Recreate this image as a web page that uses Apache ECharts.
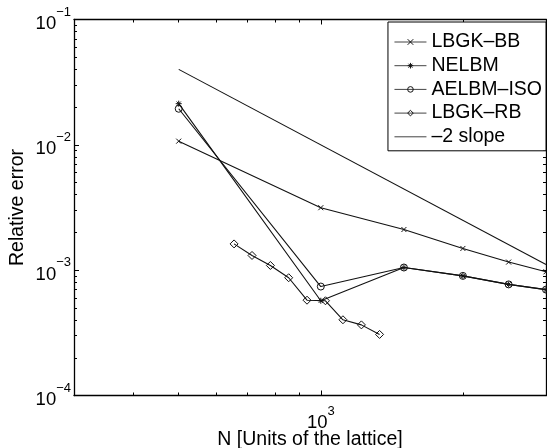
<!DOCTYPE html>
<html>
<head>
<meta charset="utf-8">
<script src="https://cdn.jsdelivr.net/npm/echarts@6/dist/echarts.min.js"></script>
<style>html,body{margin:0;padding:0;background:#fff;}#c{width:547px;height:448px;}</style>
</head>
<body>
<div id="c"></div>
<script>
// ---- data ----
const N_MAIN = [500, 1000, 1500, 2000, 2500, 3000];
const LBGK_BB = [0.0107, 0.00315, 0.00211, 0.00149, 0.00116, 0.00097];
const NELBM = [0.0213, 0.00057, 0.00105, 0.00090, 0.00077, 0.00070];
const AELBM_ISO = [0.0194, 0.00074, 0.00105, 0.00090, 0.00077, 0.00070];
const N_RB = [655, 715, 782, 855, 935, 1023, 1114, 1219, 1332];
const LBGK_RB = [0.00162, 0.00131, 0.00109, 0.00087, 0.000576, 0.00057, 0.000402, 0.000366, 0.000307];
const N_SLOPE = [500, 3000];
const SLOPE = [0.04, 0.00111];

const X_MAJOR = [1000];
const X_MINOR = [400, 500, 600, 700, 800, 900, 2000, 3000];
const Y_MAJOR = [1e-4, 1e-3, 1e-2, 1e-1];
const Y_MINOR = [2e-4,3e-4,4e-4,5e-4,6e-4,7e-4,8e-4,9e-4,
                 2e-3,3e-3,4e-3,5e-3,6e-3,7e-3,8e-3,9e-3,
                 2e-2,3e-2,4e-2,5e-2,6e-2,7e-2,8e-2,9e-2];

const NAMES = ['LBGK–BB', 'NELBM', 'AELBM–ISO', 'LBGK–RB', '–2 slope'];

const pairs = (xs, ys) => xs.map((x, i) => [x, ys[i]]);
const FONT = '"Liberation Sans", Arial, Helvetica, sans-serif';
const INK = '#111';

const rich = {
  b: {fontSize: 18.5, fontFamily: FONT, color: '#000', verticalAlign: 'bottom', lineHeight: 18},
  s: {fontSize: 13, fontFamily: FONT, color: '#000', verticalAlign: 'top', lineHeight: 12},
  h: {fontSize: 2, lineHeight: 28, width: 0}
};
const expFmt = v => {
  const e = Math.round(Math.log10(v));
  return '{h|\u200b}{b|10}{s|' + (e < 0 ? '−' + (-e) : e) + '}';
};

function xAx(pos, ticks, len, withLabel, showLine) {
  return {
    type: 'log', logBase: 10, min: 300, max: 3000, position: pos,
    axisLine: {show: showLine, onZero: false, lineStyle: {color: '#000', width: 1.3}},
    axisTick: {show: true, inside: true, length: len, customValues: ticks, lineStyle: {color: '#000', width: 1}},
    axisLabel: withLabel ? {show: true, customValues: ticks, margin: 9, formatter: expFmt, rich: rich} : {show: false},
    splitLine: {show: false}, minorTick: {show: false}
  };
}
function yAx(pos, ticks, len, withLabel, showLine) {
  return {
    type: 'log', logBase: 10, min: 1e-4, max: 1e-1, position: pos,
    axisLine: {show: showLine, onZero: false, lineStyle: {color: '#000', width: 1.3}},
    axisTick: {show: true, inside: true, length: len, customValues: ticks, lineStyle: {color: '#000', width: 1}},
    axisLabel: withLabel ? {show: true, customValues: ticks, margin: 3, formatter: expFmt, rich: rich} : {show: false},
    splitLine: {show: false}, minorTick: {show: false}
  };
}

const xAxes = [
  Object.assign(xAx('bottom', X_MAJOR, 5, true, true), {
    name: 'N [Units of the lattice]', nameLocation: 'middle', nameGap: 34, nameMoveOverlap: false,
    nameTextStyle: {fontSize: 19.5, fontFamily: FONT, color: '#000'}
  }),
  xAx('top', X_MAJOR, 5, false, true),
  xAx('bottom', X_MINOR, 3, false, false),
  xAx('top', X_MINOR, 3, false, false)
];
const yAxes = [
  Object.assign(yAx('left', Y_MAJOR, 5, true, true), {
    name: 'Relative error', nameLocation: 'middle', nameGap: 46, nameMoveOverlap: false,
    nameTextStyle: {fontSize: 19.5, fontFamily: FONT, color: '#000'}
  }),
  yAx('right', Y_MAJOR, 5, false, true),
  yAx('left', Y_MINOR, 3, false, false),
  yAx('right', Y_MINOR, 3, false, false)
];

const CROSS = 'path://M0 0L10 10M10 0L0 10';
const STAR = 'path://M5 0L5 10M0 5L10 5M1.5 1.5L8.5 8.5M8.5 1.5L1.5 8.5';

function line(name, data, symbol, size, z) {
  return {
    name: name, type: 'line', data: data, xAxisIndex: 0, yAxisIndex: 0,
    symbol: symbol, symbolSize: size, showSymbol: symbol !== 'none', z: z,
    lineStyle: {color: INK, width: 1.1},
    itemStyle: {color: 'rgba(255,255,255,0)', borderColor: INK, borderWidth: 1},
    emphasis: {disabled: true}, animation: false
  };
}

const chart = echarts.init(document.getElementById('c'), null, {renderer: 'canvas'});
chart.setOption({
  animation: false,
  backgroundColor: '#fff',
  grid: {left: 74, right: 1, top: 19.5, bottom: 52.5, containLabel: false, outerBoundsMode: 'none'},
  xAxis: xAxes,
  yAxis: yAxes,
  legend: {
    orient: 'vertical', right: 1, top: 22,
    data: NAMES.map((n, i) => i === 4
      ? {name: n, itemStyle: {color: 'rgba(0,0,0,0)', borderWidth: 0, borderColor: 'rgba(0,0,0,0)'}}
      : {name: n}),
    backgroundColor: '#fff', borderColor: '#000', borderWidth: 1,
    padding: [10, 4, 4, 6], itemGap: 3.7, itemWidth: 32, itemHeight: 7,
    itemStyle: {color: 'rgba(0,0,0,0)', borderColor: 'inherit', borderWidth: 1},
    lineStyle: {width: 1, color: '#444'},
    textStyle: {fontSize: 19.5, fontFamily: FONT, color: '#000'},
    selectedMode: false
  },
  series: [
    line(NAMES[0], pairs(N_MAIN, LBGK_BB), CROSS, 5, 3),
    line(NAMES[1], pairs(N_MAIN, NELBM), STAR, 6, 3),
    line(NAMES[2], pairs(N_MAIN, AELBM_ISO), 'circle', 7, 4),
    line(NAMES[3], pairs(N_RB, LBGK_RB), 'diamond', 8, 4),
    line(NAMES[4], pairs(N_SLOPE, SLOPE), 'none', 0, 2)
  ]
});
</script>
</body>
</html>
